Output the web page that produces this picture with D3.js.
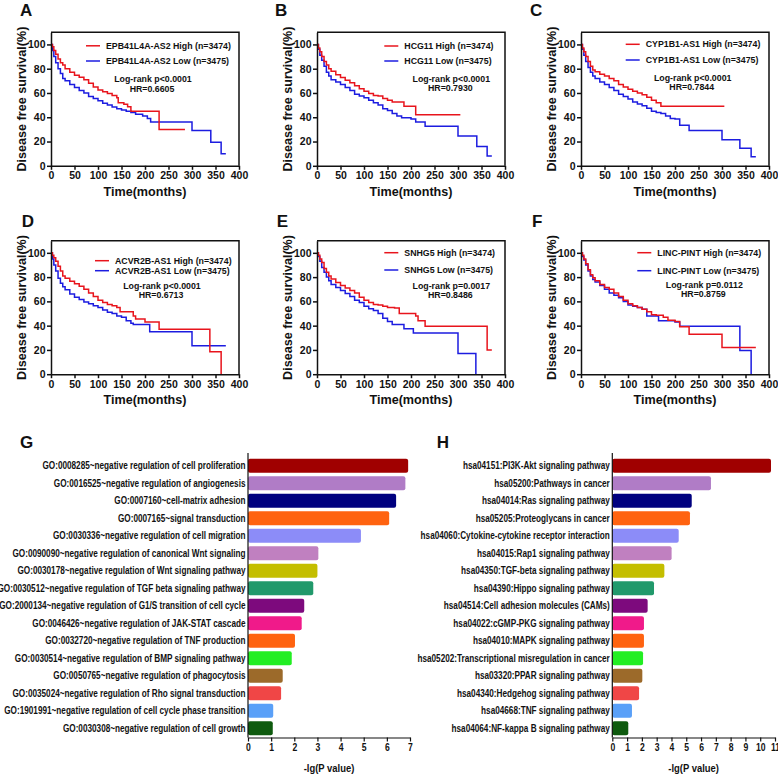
<!DOCTYPE html>
<html>
<head>
<meta charset="utf-8">
<script src="https://cdn.jsdelivr.net/npm/d3@7"></script>
<style>
body{margin:0;background:#fff}
svg{display:block}
text{font-family:"Liberation Sans",Arial,sans-serif;font-weight:bold;fill:#111}
</style>
</head>
<body>
<svg id="fig" width="778" height="776"></svg>
<script>
// ---- survival panels (A-F) ----
var kmLetters = ["A","B","C","D","E","F"];
var kmGenes = ["EPB41L4A-AS2","HCG11","CYP1B1-AS1","ACVR2B-AS1","SNHG5","LINC-PINT"];
var kmPvals = ["p<0.0001","p<0.0001","p<0.0001","p<0.0001","p=0.0017","p=0.0112"];
var kmHR = ["0.6605","0.7930","0.7844","0.6713","0.8486","0.8759"];
var nHigh = 3474, nLow = 3475;
var kmXTicks = [0,50,100,150,200,250,300,350,400];
var kmYTicks = [0,20,40,60,80,100];

// [months, % disease free]
var highCurves = [
  [[0,100],[3,98],[6,95],[10,92],[15,88],[20,85],[25,83],[30,80],[40,77],[50,74.7],[60,73],[70,71],[80,68],[90,65],[100,62.4],[110,61],[120,59.5],[130,58],[140,56],[143,52],[155,50.8],[163,48.6],[170,45],[230,30],[285,30]],
  [[0,100],[3,97],[6,94],[10,90],[15,86],[20,83],[25,80],[30,78],[40,75],[50,72.8],[60,70.5],[70,68.5],[80,66],[90,63.5],[100,61.5],[110,59.5],[120,58],[130,57.5],[140,55.5],[150,54],[160,52.5],[185,49],[210,42],[305,42]],
  [[0,100],[3,97],[6,94],[10,90],[15,86],[20,82],[25,79],[30,77.5],[40,75.5],[50,74],[60,72],[70,70],[80,67],[90,65],[100,63],[110,61.5],[120,60],[130,58.5],[140,56.5],[150,54],[160,52],[170,49],[305,49]],
  [[0,100],[3,98],[6,96],[10,93],[15,89],[20,85],[25,81],[30,79],[40,76.5],[50,74.5],[60,72.5],[70,70],[80,67],[90,64],[100,61],[110,59],[120,57.5],[130,56.5],[140,55],[147,51.5],[175,48],[180,45.5],[200,43],[230,37],[338,18.5],[362,0]],
  [[0,100],[3,98],[6,95],[10,92],[15,87],[20,84],[25,81],[30,78.5],[40,75.5],[50,73],[60,71],[70,69],[80,67],[90,63.5],[100,61],[110,59],[120,57.5],[130,57],[140,56],[150,55],[165,54.5],[175,50],[210,48],[215,44],[230,39.5],[362,20],[372,20]],
  [[0,100],[3,98],[6,95],[10,91],[15,86],[20,82],[25,79.5],[30,77],[40,74],[50,71.5],[60,70],[70,67],[80,64],[90,61],[100,58],[110,56.5],[120,55],[130,53.5],[140,51.5],[150,49],[160,48.5],[175,47],[185,44.5],[200,43.5],[210,39],[230,33],[300,22],[372,22]]
];
var lowCurves = [
  [[0,100],[3,95],[6,90],[10,85],[15,80],[20,76],[25,72],[30,70],[40,67],[50,64.5],[60,62],[70,60],[80,57],[90,55.5],[100,53.5],[110,51.5],[120,50],[130,48.5],[140,47],[150,46],[160,45],[170,44],[180,42.5],[195,41],[205,39],[212,36],[300,29],[340,19.5],[362,10],[372,10]],
  [[0,100],[3,96],[6,91],[10,87],[15,82],[20,77],[25,74],[30,71],[40,69],[50,67],[60,64.5],[70,62],[80,59],[90,57.5],[100,56],[110,54],[120,52],[130,50],[140,47],[150,45.5],[160,43],[170,41],[180,39.5],[200,38.5],[210,36],[230,32.5],[300,24.5],[340,16],[362,8],[372,8]],
  [[0,100],[3,96],[6,91],[10,86],[15,81],[20,77],[25,74],[30,72],[40,69],[50,67],[60,64.5],[70,62],[80,59],[90,57],[100,55],[110,52.5],[120,51],[130,49.5],[140,47.5],[150,45],[160,44],[170,43],[180,41],[190,39],[200,38.5],[210,33.5],[230,29],[300,21.5],[338,14.5],[362,7.5],[372,7.5]],
  [[0,100],[3,95],[6,90],[10,85],[15,79],[20,75],[25,72],[30,69.5],[40,66],[50,63.5],[60,61.5],[70,59.5],[80,58],[90,56.5],[100,55],[110,53],[120,51],[130,50],[140,48],[150,47],[160,44],[170,42],[175,41],[210,35],[300,23.5],[372,23.5]],
  [[0,100],[3,97],[6,93],[10,88],[15,84],[20,80],[25,77],[30,74],[40,71.5],[50,69],[60,66.5],[70,64],[80,61],[90,59],[100,56],[110,54],[120,52.5],[130,50],[140,46],[150,43.5],[160,41],[185,37.5],[205,34],[300,17],[338,0]],
  [[0,100],[3,97],[6,94],[10,90],[15,85],[20,81],[25,78],[30,76],[40,73],[50,70],[60,67],[70,65],[80,63],[90,60],[100,57],[110,56],[120,55],[130,53.5],[140,48],[165,44],[200,43],[210,39.5],[338,19.5],[362,0]]
];

// ---- enrichment panels (G, H) ----
var goTerms = ["GO:0008285~negative regulation of cell proliferation","GO:0016525~negative regulation of angiogenesis","GO:0007160~cell-matrix adhesion","GO:0007165~signal transduction","GO:0030336~negative regulation of cell migration","GO:0090090~negative regulation of canonical Wnt signaling","GO:0030178~negative regulation of Wnt signaling pathway","GO:0030512~negative regulation of TGF beta signaling pathway","GO:2000134~negative regulation of G1/S transition of cell cycle","GO:0046426~negative regulation of JAK-STAT cascade","GO:0032720~negative regulation of TNF production","GO:0030514~negative regulation of BMP signaling pathway","GO:0050765~negative regulation of phagocytosis","GO:0035024~negative regulation of Rho signal transduction","GO:1901991~negative regulation of cell cycle phase transition","GO:0030308~negative regulation of cell growth"];
var goValues = [6.92,6.8,6.4,6.1,4.88,3.04,3.0,2.82,2.43,2.32,2.03,1.89,1.5,1.43,1.09,1.07];
var goTicks = [0,1,2,3,4,5,6,7];

var keggTerms = ["hsa04151:PI3K-Akt signaling pathway","hsa05200:Pathways in cancer","hsa04014:Ras signaling pathway","hsa05205:Proteoglycans in cancer","hsa04060:Cytokine-cytokine receptor interaction","hsa04015:Rap1 signaling pathway","hsa04350:TGF-beta signaling pathway","hsa04390:Hippo signaling pathway","hsa04514:Cell adhesion molecules (CAMs)","hsa04022:cGMP-PKG signaling pathway","hsa04010:MAPK signaling pathway","hsa05202:Transcriptional misregulation in cancer","hsa03320:PPAR signaling pathway","hsa04340:Hedgehog signaling pathway","hsa04668:TNF signaling pathway","hsa04064:NF-kappa B signaling pathway"];
var keggValues = [10.73,6.67,5.37,5.25,4.49,4.01,3.52,2.82,2.39,2.14,2.14,2.08,2.03,1.81,1.33,1.08];
var keggTicks = [0,1,2,3,4,5,6,7,8,9,10,11];

var barColors = ["#A00000","#B07CC6","#00007F","#FF6310","#8C8CF8","#C080C0","#C4BE00","#21996B","#7D0A7D","#F01A8A","#FF6310","#22EE22","#9C6A2A","#F04646","#5AA0F8","#0E5A0E"];

var svg = d3.select("#fig");
var RED = "#E8141C", BLUE = "#1C1CE0";
var NARROW = "scale(0.82,1)";

// layout
var kmLeft = [51, 317, 581], kmTop = [32.3, 240.7], kmW = 188, kmH = 133.5;
var letterPos = [[20,15.7],[275,15.5],[530,15.5],[21.7,226.7],[276.7,226.7],[532,227]];
var legendX = [106, 404.3, 645.7, 115, 404.3, 657.3];
var legendRows = [[13.5,28.7],[13.7,28.7],[12,27.7],[20,30],[12,29.3],[12,30]];
var statRows = [[46.7,56.7],[46.7,56],[45.4,55],[45.3,54.3],[45.3,54.3],[44.3,53.3]];

function drawKM(i){
  var left = kmLeft[i%3], top = kmTop[Math.floor(i/3)];
  var x = d3.scaleLinear().domain([0,400]).range([left,left+kmW]);
  var y = d3.scaleLinear().domain([0,110]).range([top+kmH,top]);
  var g = svg.append("g");

  var line = d3.line().x(function(d){return x(d[0]);}).y(function(d){return y(d[1]);}).curve(d3.curveStepAfter);
  g.append("path").datum(lowCurves[i]).attr("d",line).attr("fill","none").attr("stroke",BLUE).attr("stroke-width",1.5);
  g.append("path").datum(highCurves[i]).attr("d",line).attr("fill","none").attr("stroke",RED).attr("stroke-width",1.5);

  // frame top + right
  g.append("path").attr("d","M"+left+","+top+"H"+(left+kmW)+"V"+(top+kmH))
    .attr("fill","none").attr("stroke","#111").attr("stroke-width",1.5);

  var xa = g.append("g").attr("transform","translate(0,"+(top+kmH)+")")
    .call(d3.axisBottom(x).tickValues(kmXTicks).tickSize(4).tickSizeOuter(0).tickPadding(2));
  var ya = g.append("g").attr("transform","translate("+left+",0)")
    .call(d3.axisLeft(y).tickValues(kmYTicks).tickSize(4).tickSizeOuter(0).tickPadding(1.5));
  [xa,ya].forEach(function(a){
    a.attr("font-size",10.5);
    a.selectAll("path,line").attr("stroke","#111").attr("stroke-width",1.5);
  });

  g.append("text").attr("x",letterPos[i][0]).attr("y",letterPos[i][1]).attr("font-size",17).text(kmLetters[i]);
  g.append("text").attr("transform","translate("+(left-29)+","+(top+kmH/2)+") rotate(-90)")
    .attr("text-anchor","middle").attr("dy","0.35em").attr("font-size",12.6).text("Disease free survival(%)");
  g.append("text").attr("x",left+kmW/2).attr("y",top+kmH+30).attr("text-anchor","middle")
    .attr("font-size",12.6).text("Time(months)");

  // legend
  var tx = legendX[i];
  g.append("text").attr("font-size",8.8).attr("dy","0.35em").attr("x",tx).attr("y",top+legendRows[i][0])
    .text(kmGenes[i]+" High (n="+nHigh+")");
  g.append("text").attr("font-size",8.8).attr("dy","0.35em").attr("x",tx).attr("y",top+legendRows[i][1])
    .text(kmGenes[i]+" Low (n="+nLow+")");
  g.append("line").attr("x1",tx-20).attr("x2",tx-6).attr("y1",top+legendRows[i][0]).attr("y2",top+legendRows[i][0])
    .attr("stroke",RED).attr("stroke-width",1.5);
  g.append("line").attr("x1",tx-20).attr("x2",tx-6).attr("y1",top+legendRows[i][1]).attr("y2",top+legendRows[i][1])
    .attr("stroke",BLUE).attr("stroke-width",1.5);
  g.append("text").attr("x",tx+47).attr("y",top+statRows[i][0]).attr("dy","0.35em").attr("text-anchor","middle")
    .attr("font-size",8.8).text("Log-rank "+kmPvals[i]);
  g.append("text").attr("x",tx+46).attr("y",top+statRows[i][1]).attr("dy","0.35em").attr("text-anchor","middle")
    .attr("font-size",8.8).text("HR="+kmHR[i]);
}
for(var i=0;i<6;i++) drawKM(i);

function drawBars(terms, vals, ticks, axisX, xRight, letter, letterX){
  var g = svg.append("g");
  var x = d3.scaleLinear().domain([0,ticks[ticks.length-1]]).range([axisX,xRight]);
  var y = d3.scaleBand().domain(terms).range([457,737]).paddingInner(0.2).paddingOuter(0.1);

  g.selectAll("rect").data(terms).enter().append("rect")
    .attr("x",axisX).attr("y",function(d){return y(d);})
    .attr("width",function(d,i){return x(vals[i])-axisX;})
    .attr("height",y.bandwidth()).attr("rx",2)
    .attr("fill",function(d,i){return barColors[i];});

  // condensed labels (no narrow face installed, so squeeze horizontally)
  g.selectAll("text.lab").data(terms).enter().append("text").attr("class","lab")
    .attr("transform",function(d){return "translate("+(axisX-2.5)+","+(y(d)+y.bandwidth()/2)+") "+NARROW;})
    .attr("dy","0.35em").attr("text-anchor","end").attr("font-size",10).text(function(d){return d;});

  g.append("line").attr("x1",axisX).attr("x2",axisX).attr("y1",453).attr("y2",737.5)
    .attr("stroke","#111").attr("stroke-width",1.2);
  var xa = g.append("g").attr("transform","translate(0,737.5)")
    .call(d3.axisBottom(x).tickValues(ticks).tickFormat(d3.format("d")).tickSize(4).tickSizeOuter(0).tickPadding(2));
  xa.attr("font-size",10.5);
  xa.selectAll("path,line").attr("stroke","#111").attr("stroke-width",1.2);
  xa.selectAll("text").attr("transform",NARROW);

  g.append("text").attr("transform","translate("+((axisX+xRight)/2)+",772) "+NARROW)
    .attr("text-anchor","middle").attr("font-size",11.5).text("-lg(P value)");
  svg.append("text").attr("x",letterX).attr("y",448.3).attr("font-size",17).text(letter);
}
drawBars(goTerms, goValues, goTicks, 248, 410, "G", 20);
drawBars(keggTerms, keggValues, keggTicks, 612.3, 775, "H", 436.7);
</script>
</body>
</html>
